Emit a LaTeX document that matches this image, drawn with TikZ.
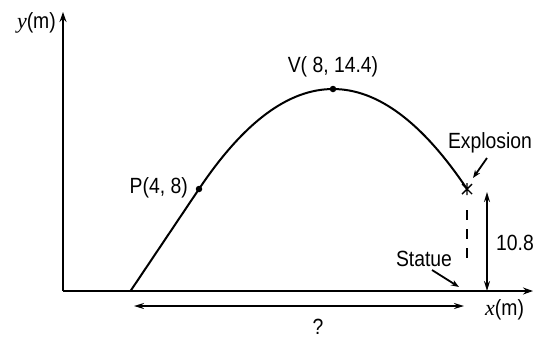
\documentclass[tikz,border=0pt]{standalone}
\usepackage{fontspec}
\setmainfont{Liberation Sans}[FakeStretch=0.88]
\newfontfamily\tms{Liberation Serif}
\usetikzlibrary{arrows.meta}
\tikzset{
  ln/.style={line width=2pt},
  ax/.style={line width=2pt,-{Stealth[length=10pt,width=7pt]}},
  dbl/.style={line width=2pt,{Stealth[length=10pt,width=6pt]}-{Stealth[length=10pt,width=6pt]}},
  ptr/.style={line width=1.8pt,-{Stealth[length=8pt,width=6pt]}},
  dot/.style={circle,fill=black,inner sep=0pt,minimum size=6.5pt},
  lbl/.style={font=\fontsize{22}{24}\selectfont,inner sep=0pt},
}
\begin{document}
\begin{tikzpicture}[x=1pt,y=-1pt]
\useasboundingbox (0,0) rectangle (538,341);
% axes
\coordinate (O) at (63,291);
\coordinate (ytop) at (63,12);
\coordinate (xend) at (533,291);
\draw[ax] (O) -- (ytop);
\draw[ax] (O) -- (xend);
\node[lbl,anchor=east] (ylab) at (56,23) {{\tms\itshape y}(m)};
\node[lbl,anchor=west] (xlab) at (485,310) {{\tms\itshape x}(m)};
% trajectory
\coordinate (G) at (130.5,291);
\node[dot] (P) at (199,189) {};
\node[dot] (V) at (333,89) {};
\coordinate (E) at (467,189);
\draw[ln] (G) -- (P.center) .. controls (288.3,55.7) and (377.7,55.7) .. (E);
\node[lbl,anchor=east] (Plab) at (188,188) {P(4, 8)};
\node[lbl] (Vlab) at (333,67) {V( 8, 14.4)};
% explosion mark
\draw[line width=1.4pt] (462,184) -- (472,194) (462,194) -- (472,184) (467,183) -- (467,195);
\node[lbl] (Exlab) at (490,143) {Explosion};
\coordinate (ExA) at (487,158);
\coordinate (ExB) at (473,178);
\draw[ptr] (ExA) -- (ExB);
% dashed drop
\coordinate (D1) at (467,210);
\coordinate (D2) at (467,258);
\draw[line width=2.4pt,dash pattern=on 10pt off 9pt] (D1) -- (D2);
% height arrow
\coordinate (H1) at (487,192);
\coordinate (H2) at (487,291);
\draw[dbl] (H1) -- (H2);
\node[lbl,anchor=west] (hlab) at (496,243) {10.8};
% statue
\node[lbl] (Slab) at (424,259) {Statue};
\coordinate (SA) at (432,270);
\coordinate (SB) at (459,287);
\draw[ptr] (SA) -- (SB);
% distance
\coordinate (L1) at (134,306);
\coordinate (L2) at (464,306);
\draw[dbl] (L1) -- (L2);
\node[lbl] (q) at (318,327) {?};
\end{tikzpicture}
\end{document}
